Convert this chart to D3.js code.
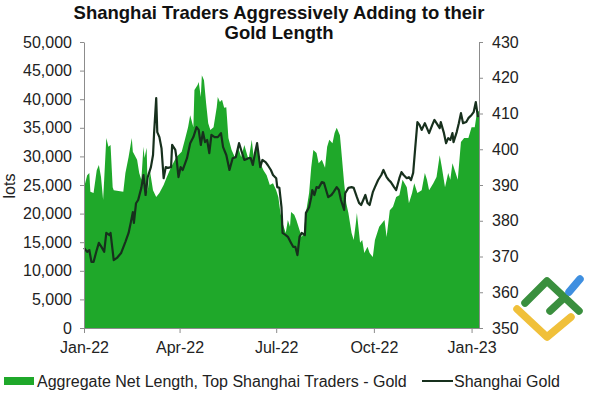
<!DOCTYPE html>
<html>
<head>
<meta charset="utf-8">
<script src="https://cdn.jsdelivr.net/npm/d3@7"></script>
<style>
  body { margin: 0; background: #fff; }
  svg { font-family: "Liberation Sans", Arial, sans-serif; }
  .axis path, .axis line { stroke: #8c8c8c; }
  .axis text { fill: #222; font-size: 16px; }
</style>
</head>
<body>
<svg id="chart" width="597" height="397"></svg>
<script>
// day offsets from 1 Jan 2022
const netLength = [
  [0, 24500], [3, 26700], [5, 27100], [6, 23800], [9, 23600], [12, 27600], [14, 28500],
  [16, 26400], [18, 22400], [19, 25900], [21, 33200], [23, 31700], [25, 32000], [27, 24600],
  [28, 24100], [37, 23800], [39, 27100], [42, 29900], [45, 33200], [46, 30800], [50, 29400],
  [52, 27100], [54, 25900], [56, 31700], [57, 29700], [59, 31500], [60, 23800], [62, 27600],
  [65, 24100], [68, 22900], [71, 23600], [75, 25000], [78, 26400], [82, 28100], [87, 29900],
  [92, 30800], [95, 32900], [98, 35100], [100, 37200], [103, 35100], [104, 41600], [107, 42500],
  [108, 43000], [110, 40400], [111, 44200], [113, 43300], [115, 39300], [117, 35800], [119, 34600],
  [122, 35100], [125, 38600], [126, 40400], [128, 39500], [130, 39900], [132, 38500], [134, 38600],
  [136, 33200], [139, 31100], [142, 29900], [145, 31700], [148, 29900], [151, 32000], [155, 29400],
  [158, 32900], [160, 29400], [163, 32300], [166, 28800], [169, 27600], [172, 26700], [175, 25000],
  [178, 25300], [181, 24100], [183, 22900], [185, 20100], [187, 18300], [190, 16600], [192, 18900],
  [194, 17700], [195, 20300], [198, 19800], [200, 18900], [202, 17700], [205, 15900], [207, 16600],
  [209, 20100], [212, 23600], [214, 28100], [216, 31100], [219, 30600], [221, 28800], [224, 29400],
  [227, 28000], [229, 31700], [231, 32900], [234, 32300], [236, 34100], [238, 35000], [241, 33700],
  [242, 31700], [245, 25300], [247, 21800], [249, 20100], [252, 16600], [254, 15400], [256, 18300],
  [257, 20100], [260, 14900], [262, 15400], [264, 13100], [267, 14200], [269, 13100], [272, 12400],
  [274, 15400], [278, 17700], [283, 18900], [285, 15900], [288, 20600], [291, 21200], [294, 22900],
  [297, 23200], [300, 25900], [304, 24600], [306, 21800], [309, 23600], [311, 25300], [314, 23600],
  [318, 24100], [321, 27100], [323, 25900], [325, 24100], [329, 25300], [332, 26400], [335, 30200],
  [337, 28100], [340, 24600], [343, 27100], [345, 25900], [347, 28800], [350, 27100], [352, 25900],
  [355, 32500], [358, 33200], [362, 33200], [365, 35100], [368, 35100], [370, 37600], [372, 38000]
];

const shanghaiGold = [
  [0, 372.4], [3, 371.3], [5, 371.8], [7, 368.5], [9, 368.5], [12, 371.8], [14, 373.8],
  [17, 372.4], [19, 371.3], [21, 376.6], [24, 376.0], [25, 376.6], [28, 369.0], [31, 369.6],
  [35, 371.0], [39, 374.1], [42, 376.6], [44, 379.4], [46, 382.4], [47, 379.4], [49, 384.9],
  [51, 385.8], [54, 389.2], [56, 392.8], [58, 387.2], [60, 392.2], [63, 395.0], [65, 398.4],
  [66, 404.5], [68, 414.3], [69, 404.8], [71, 403.4], [73, 400.3], [75, 391.9], [77, 395.0],
  [79, 394.8], [82, 395.0], [83, 401.2], [86, 399.8], [87, 397.8], [89, 392.2], [91, 395.0],
  [93, 394.2], [97, 397.5], [100, 401.7], [103, 403.4], [106, 406.2], [108, 405.4], [110, 401.2],
  [112, 404.8], [114, 402.0], [116, 402.6], [118, 398.9], [120, 404.0], [123, 403.4], [126, 403.4],
  [129, 404.5], [131, 400.6], [134, 398.4], [137, 394.2], [140, 397.5], [143, 397.8], [146, 401.7],
  [148, 399.8], [151, 397.0], [155, 397.5], [157, 397.5], [159, 395.6], [161, 398.9], [163, 401.7],
  [166, 395.0], [168, 397.0], [171, 396.4], [173, 395.6], [176, 394.2], [178, 392.8], [181, 391.9],
  [182, 389.4], [184, 389.2], [186, 383.8], [187, 376.6], [190, 376.0], [192, 375.5], [195, 373.8],
  [197, 372.7], [199, 372.7], [201, 370.4], [203, 375.5], [205, 376.6], [208, 376.0], [209, 382.2],
  [212, 383.8], [214, 386.6], [215, 388.6], [217, 387.2], [219, 389.4], [221, 389.2], [224, 390.8],
  [226, 390.6], [228, 388.6], [230, 386.6], [233, 387.2], [235, 388.0], [238, 389.4], [240, 388.6],
  [242, 385.8], [245, 383.0], [246, 387.7], [249, 389.2], [252, 389.4], [254, 389.2], [257, 386.6],
  [259, 385.0], [261, 384.4], [263, 385.8], [265, 387.2], [267, 385.0], [269, 384.4], [272, 388.0],
  [274, 389.4], [277, 391.4], [280, 392.8], [282, 394.2], [285, 392.2], [287, 391.4], [289, 390.8],
  [292, 389.4], [294, 388.6], [297, 391.9], [299, 393.6], [301, 392.8], [304, 391.9], [306, 392.2],
  [308, 391.4], [310, 393.4], [312, 400.6], [314, 407.6], [316, 406.8], [318, 405.4], [321, 407.3],
  [323, 405.9], [325, 404.5], [328, 406.8], [330, 408.2], [332, 407.3], [335, 405.9], [336, 407.6],
  [339, 404.5], [341, 401.7], [343, 403.1], [345, 402.6], [347, 404.5], [348, 402.0], [351, 404.8],
  [353, 407.3], [355, 410.1], [357, 407.3], [360, 407.6], [362, 408.7], [365, 409.6], [367, 410.4],
  [369, 413.2], [370, 411.0], [371, 409.0]
];

const lotsTicks = [0, 5000, 10000, 15000, 20000, 25000, 30000, 35000, 40000, 45000, 50000];
const goldTicks = [350, 360, 370, 380, 390, 400, 410, 420, 430];
const monthTicks = ["2022-01-01", "2022-04-01", "2022-07-01", "2022-10-01", "2023-01-01"];
const titleLines = ["Shanghai Traders Aggressively Adding to their", "Gold Length"];
const legendLabels = ["Aggregate Net Length, Top Shanghai Traders - Gold", "Shanghai Gold"];

const areaColor = "#1fa82a";
const lineColor = "#17301d";

const start = new Date(2022, 0, 1);
const toDate = d => d3.timeDay.offset(start, d);

const svg = d3.select("#chart");
const margin = { top: 42, right: 118, bottom: 69, left: 84 };
const W = 597, H = 397;

const x = d3.scaleTime()
  .domain([start, toDate(372)])
  .range([margin.left, W - margin.right]);
const yL = d3.scaleLinear().domain([0, 50000]).range([H - margin.bottom, margin.top]);
const yR = d3.scaleLinear().domain([350, 430]).range([H - margin.bottom, margin.top]);

// area
svg.append("path")
  .datum(netLength)
  .attr("fill", areaColor)
  .attr("d", d3.area()
    .x(d => x(toDate(d[0])))
    .y0(yL(0))
    .y1(d => yL(d[1])));

// gold line
svg.append("path")
  .datum(shanghaiGold)
  .attr("fill", "none")
  .attr("stroke", lineColor)
  .attr("stroke-width", 2.2)
  .attr("stroke-linejoin", "round")
  .attr("d", d3.line()
    .x(d => x(toDate(d[0])))
    .y(d => yR(d[1])));

// axes
const fmt = d3.format(",");
svg.append("g")
  .attr("class", "axis")
  .attr("transform", `translate(${margin.left},0)`)
  .call(d3.axisLeft(yL).tickValues(lotsTicks).tickFormat(fmt).tickSize(4).tickPadding(8).tickSizeOuter(0));

svg.append("g")
  .attr("class", "axis")
  .attr("transform", `translate(${W - margin.right},0)`)
  .call(d3.axisRight(yR).tickValues(goldTicks).tickSize(4).tickPadding(9).tickSizeOuter(0));

const monthFmt = d3.timeFormat("%b-%y");
svg.append("g")
  .attr("class", "axis")
  .attr("transform", `translate(0,${H - margin.bottom})`)
  .call(d3.axisBottom(x).tickValues(monthTicks.map(s => new Date(s + "T00:00:00")))
    .tickFormat(monthFmt).tickSize(5).tickPadding(9).tickSizeOuter(0));

// y label
svg.append("text")
  .attr("transform", "translate(15,186) rotate(-90)")
  .attr("text-anchor", "middle")
  .style("font-size", "16px")
  .attr("fill", "#222")
  .text("lots");

// title
svg.append("g")
  .selectAll("text")
  .data(titleLines)
  .join("text")
  .attr("x", 279)
  .attr("y", (d, i) => 19 + i * 20)
  .attr("text-anchor", "middle")
  .style("font-size", "18.5px")
  .style("font-weight", "bold")
  .attr("fill", "#111")
  .text(d => d);

// legend
const leg = svg.append("g").style("font-size", "16px").attr("fill", "#222");
leg.append("rect").attr("x", 4).attr("y", 377).attr("width", 30).attr("height", 8).attr("fill", areaColor);
leg.append("text").attr("x", 37).attr("y", 387).text(legendLabels[0]);
leg.append("line").attr("x1", 422).attr("x2", 453).attr("y1", 381).attr("y2", 381)
  .attr("stroke", lineColor).attr("stroke-width", 2);
leg.append("text").attr("x", 454).attr("y", 387).text(legendLabels[1]);

// logo in the corner
const logo = svg.append("g")
  .attr("fill", "none")
  .attr("stroke-width", 7.5)
  .attr("stroke-linecap", "round")
  .attr("stroke-linejoin", "round");
logo.append("path").attr("d", "M517,309 L547,337 L571,317").attr("stroke", "#f0c03a");
logo.append("path").attr("d", "M525,303 L547,281 L579,311").attr("stroke", "#3a8f3e");
logo.append("path").attr("d", "M550,311 L565,297").attr("stroke", "#3a8f3e");
logo.append("path").attr("d", "M569,292 L580,279").attr("stroke", "#3f8fe0");
</script>
</body>
</html>
